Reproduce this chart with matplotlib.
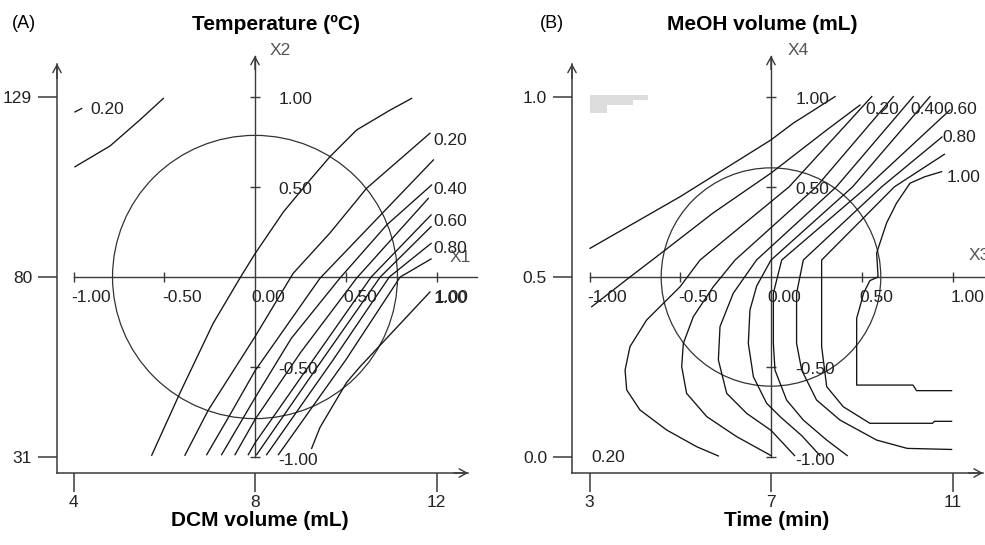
import matplotlib.pyplot as plt

plt.rcParams['font.family'] = ['Liberation Sans', 'DejaVu Sans']

# ---------------- data (coded units, -1..1 on the inner X axes) ----------------
outer_ticks = [-1, 0, 1]
a_xticklabels = ['4', '8', '12']
a_yticklabels = ['129', '80', '31']
b_xticklabels = ['3', '7', '11']
b_yticklabels = ['1.0', '0.5', '0.0']

inner_ticks = [-1.0, -0.5, 0.5, 1.0]
inner_ticklabels = ['-1.00', '-0.50', '0.50', '1.00']

a_circle_r = 0.785
b_circle_r = 0.605

# panel A contour lines
a_l1 = [(-0.992, 0.611), (-0.799, 0.726), (-0.634, 0.871), (-0.505, 0.990)]
a_l1b = [(-0.992, 0.915), (-0.955, 0.934)]
a_l2 = [(-0.569, -0.988), (-0.413, -0.642), (-0.230, -0.256), (-0.083, -0.006), (0.0, 0.129),
        (0.156, 0.360), (0.303, 0.538), (0.413, 0.667), (0.560, 0.815), (0.744, 0.925), (0.863, 0.990)]
a_l3 = [(-0.386, -0.988), (-0.257, -0.737), (0.0, -0.331), (0.21, 0.02), (0.413, 0.244),
        (0.615, 0.492), (0.964, 0.797)]
a_l4 = [(-0.266, -0.985), (-0.13, -0.75), (0.0, -0.52), (0.358, -0.007), (0.983, 0.649)]
a_l5 = [(-0.184, -0.985), (0.0, -0.67), (0.2, -0.34), (0.468, -0.006), (0.725, 0.288), (0.973, 0.510)]
a_l6 = [(-0.110, -0.985), (0.0, -0.79), (0.25, -0.42), (0.56, -0.006), (0.955, 0.436)]
a_l7 = [(-0.037, -0.985), (0.0, -0.92), (0.32, -0.46), (0.64, 0.0), (0.97, 0.344)]
a_l8 = [(0.009, -0.985), (0.37, -0.46), (0.69, 0.0), (0.97, 0.279)]
a_l9 = [(0.064, -0.985), (0.43, -0.46), (0.74, 0.0), (0.97, 0.186)]
a_l10 = [(0.129, -0.985), (0.50, -0.46), (0.80, 0.0), (0.97, 0.10)]
a_l11 = [(0.312, -0.950), (0.358, -0.834), (0.505, -0.584), (0.579, -0.497), (0.964, -0.083)]
a_lines = [a_l1, a_l1b, a_l2, a_l3, a_l4, a_l5, a_l6, a_l7, a_l8, a_l9, a_l10, a_l11]

a_clabels = ['0.20', '0.20', '0.40', '0.60', '0.80', '1.00']
a_clabel_x = [-0.909, 0.983, 0.983, 0.983, 0.983, 0.983]
a_clabel_y = [0.929, 0.755, 0.486, 0.306, 0.158, -0.121]

# panel B contour lines
b_l1 = [(-0.997, 0.159), (-0.501, 0.445), (0.0, 0.76), (0.123, 0.853), (0.353, 1.0)]
b_l2 = [(-0.988, -0.165), (-0.777, 0.0), (-0.595, 0.14), (-0.319, 0.355), (0.0, 0.576),
        (0.307, 0.815), (0.49, 0.953)]
b_c1 = [(0.555, 1.0), (0.10, 0.5), (-0.391, 0.094), (-0.501, -0.054), (-0.685, -0.238),
        (-0.777, -0.386), (-0.804, -0.516), (-0.795, -0.626), (-0.722, -0.737),
        (-0.575, -0.848), (-0.409, -0.941), (-0.29, -0.992)]
b_c2 = [(0.674, 1.0), (0.25, 0.5), (-0.198, 0.094), (-0.318, -0.054), (-0.428, -0.22),
        (-0.483, -0.368), (-0.492, -0.497), (-0.465, -0.645), (-0.354, -0.774),
        (-0.189, -0.885), (0.0, -0.99)]
b_c3 = [(0.784, 1.0), (0.36, 0.5), (-0.08, 0.094), (-0.208, -0.09), (-0.281, -0.275),
        (-0.29, -0.46), (-0.244, -0.645), (-0.134, -0.756), (0.0, -0.85), (0.13, -0.99)]
b_c4 = [(0.876, 1.0), (0.45, 0.5), (0.0, 0.094), (-0.079, -0.05), (-0.116, -0.183),
        (-0.125, -0.368), (-0.097, -0.553), (-0.024, -0.7), (0.05, -0.774), (0.17, -0.88),
        (0.27, -0.99)]
b_c5 = [(0.986, 0.926), (0.53, 0.5), (0.059, 0.094), (0.013, -0.09), (0.013, -0.368),
        (0.022, -0.516), (0.086, -0.682), (0.178, -0.793), (0.307, -0.904), (0.42, -0.99)]
b_c6 = [(0.942, 0.776), (0.61, 0.5), (0.178, 0.094), (0.141, -0.09), (0.141, -0.368),
        (0.169, -0.516), (0.251, -0.682), (0.38, -0.793), (0.582, -0.904), (0.75, -0.95),
        (0.995, -0.956)]
b_c7 = [(0.955, 0.68), (0.68, 0.5), (0.279, 0.094), (0.279, -0.183), (0.279, -0.386),
        (0.307, -0.608), (0.398, -0.719), (0.545, -0.811), (0.89, -0.811), (0.90, -0.80),
        (0.995, -0.80)]
b_c8 = [(0.94, 0.584), (0.848, 0.556), (0.766, 0.52), (0.692, 0.41), (0.637, 0.30),
        (0.582, 0.133), (0.59, 0.0), (0.545, -0.02), (0.51, -0.09), (0.49, -0.165),
        (0.472, -0.229), (0.472, -0.599), (0.782, -0.599), (0.802, -0.63), (0.995, -0.63)]
b_lines = [b_l1, b_l2, b_c1, b_c2, b_c3, b_c4, b_c5, b_c6, b_c7, b_c8]

b_clabels = ['0.20', '0.40', '0.60', '0.80', '1.00', '0.20']
b_clabel_x = [0.518, 0.766, 0.948, 0.942, 0.970, -0.988]
b_clabel_y = [0.926, 0.926, 0.926, 0.776, 0.554, -0.998]

b_patch = [(-0.997, 1.009), (-0.678, 1.009), (-0.678, 0.981), (-0.760, 0.981), (-0.760, 0.953),
           (-0.904, 0.953), (-0.904, 0.909), (-0.997, 0.909)]

# ---------------- drawing ----------------
W, H = 985, 545
fig = plt.figure(figsize=(W / 100, H / 100), dpi=100)

AX_C = '#3a3a3a'
LINE_C = '#141414'
FS = 12.5


def arrow(ax, tip, tail, color=AX_C):
    ax.annotate('', xy=tip, xytext=tail,
                arrowprops=dict(arrowstyle='->,head_length=0.55,head_width=0.3',
                                lw=1.0, color=color, shrinkA=0, shrinkB=0))


def panel(rect, xlim, ylim, xlabels, ylabels, lines, circ_r, clabels, clx, cly,
          x1_end, x1_name, x1_name_pos, x2_name, x2_name_pos, xlab_dx, ylab_dx, spine_x_end):
    ax = fig.add_axes(rect)
    ax.set_xlim(*xlim)
    ax.set_ylim(*ylim)
    for s in ['top', 'right']:
        ax.spines[s].set_visible(False)
    ax.spines['left'].set_bounds(ylim[0], 1.183)
    ax.spines['bottom'].set_bounds(xlim[0], spine_x_end)
    for s in ['left', 'bottom']:
        ax.spines[s].set_color(AX_C)
        ax.spines[s].set_linewidth(1.1)
    ax.set_xticks(outer_ticks, labels=xlabels)
    ax.set_yticks(outer_ticks, labels=ylabels[::-1])
    ax.tick_params(axis='both', direction='out', length=14, width=1.1, color=AX_C,
                   labelsize=FS, labelcolor='#222222')
    ax.tick_params(axis='x', pad=2)
    ax.tick_params(axis='y', pad=4)
    arrow(ax, (xlim[0], 1.183), (xlim[0], 1.1))
    arrow(ax, (spine_x_end, ylim[0]), (spine_x_end - 0.08, ylim[0]))

    # coded axes
    ax.plot([-1, x1_end], [0, 0], color=AX_C, lw=1.0, clip_on=False)
    ax.plot([0, 0], [-1, 1.227], color=AX_C, lw=1.0)
    if x1_end < 1.2:
        arrow(ax, (x1_end, 0), (x1_end - 0.08, 0))
    arrow(ax, (0, 1.227), (0, 1.15))
    ax.plot(inner_ticks, [0] * 4, ls='none', marker='|', ms=7, mew=1.0, color=AX_C)
    ax.plot([0] * 4, inner_ticks, ls='none', marker='_', ms=7, mew=1.0, color=AX_C)
    for v, t in zip(inner_ticks, inner_ticklabels):
        ax.text(v + xlab_dx, -0.112, t if v != 0 else t, fontsize=FS, color='#222222',
                ha='left', va='center')
        ax.text(ylab_dx, v - 0.015, t, fontsize=FS, color='#222222', ha='left', va='center')
    ax.text(xlab_dx - 0.01, -0.112, '0.00', fontsize=FS, color='#222222', ha='left', va='center')
    ax.text(x1_name_pos[0], x1_name_pos[1], x1_name, fontsize=FS, color='#555555',
            ha='left', va='center', clip_on=False)
    ax.text(x2_name_pos[0], x2_name_pos[1], x2_name, fontsize=FS, color='#555555',
            ha='left', va='center')

    ax.add_patch(plt.Circle((0, 0), circ_r, fill=False, ec='#333333', lw=0.9))

    for ln in lines:
        xs, ys = zip(*ln)
        ax.plot(xs, ys, color=LINE_C, lw=0.95)
    for t, x, y in zip(clabels, clx, cly):
        ax.text(x, y, t, fontsize=FS, color='#222222', ha='left', va='center')
    return ax


def px_axes(left_px, origin_px):
    # spines at left_px / bottom 473 px; 181.5 px per coded unit horizontally, 180.4 vertically
    right_px = W - 2
    xlim = ((left_px - origin_px) / 181.5, (right_px - origin_px) / 181.5)
    ylim = ((277 - 473) / 180.4, (277 - 38) / 180.4)
    rect = [left_px / W, (H - 473) / H, (right_px - left_px) / W if origin_px > 500 else (490 - left_px) / W,
            (473 - 38) / H]
    if origin_px < 500:
        xlim = (xlim[0], (490 - origin_px) / 181.5)
    return rect, xlim, ylim


rect_a, xlim_a, ylim_a = px_axes(57, 255)
ax_a = panel(rect_a, xlim_a, ylim_a, a_xticklabels, a_yticklabels, a_lines, a_circle_r,
             a_clabels, a_clabel_x, a_clabel_y, 1.221, 'X1', (1.07, 0.11), 'X2', (0.08, 1.256),
             -0.012, 0.129, 1.175)

rect_b, xlim_b, ylim_b = px_axes(572, 771)
ax_b = panel(rect_b, xlim_b, ylim_b, b_xticklabels, b_yticklabels, b_lines, b_circle_r,
             b_clabels, b_clabel_x, b_clabel_y, 1.25, 'X3', (1.087, 0.12), 'X4', (0.09, 1.256),
             -0.012, 0.136, 1.168)
bx, by = zip(*b_patch)
ax_b.fill(bx, by, color='#dcdcdc', lw=0)

# titles and axis names
fig.text(12 / W, 1 - 24 / H, '(A)', fontsize=13, ha='left', va='center')
fig.text(276 / W, 1 - 24 / H, 'Temperature (ºC)', fontsize=15, fontweight='bold',
         ha='center', va='center')
fig.text(260 / W, 1 - 521 / H, 'DCM volume (mL)', fontsize=15, fontweight='bold',
         ha='center', va='center')
fig.text(540 / W, 1 - 24 / H, '(B)', fontsize=13, ha='left', va='center')
fig.text(762 / W, 1 - 24 / H, 'MeOH volume (mL)', fontsize=15, fontweight='bold',
         ha='center', va='center')
fig.text(777 / W, 1 - 521 / H, 'Time (min)', fontsize=15, fontweight='bold',
         ha='center', va='center')

fig.savefig('out.png', dpi=100)
